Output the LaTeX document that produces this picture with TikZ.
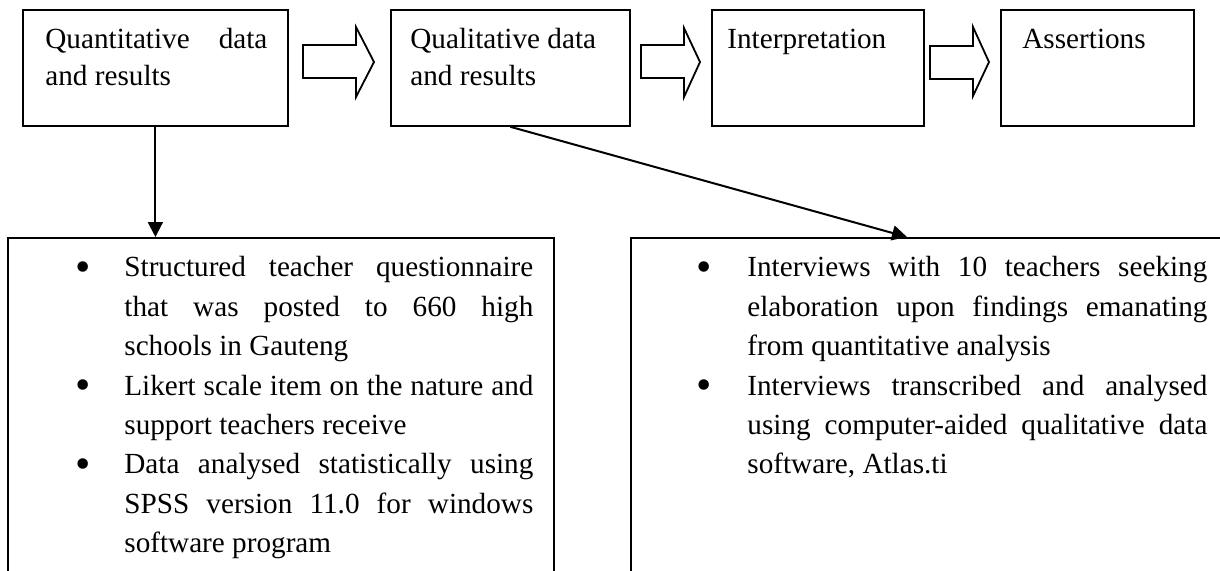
\documentclass[tikz,border=0pt]{standalone}
\usepackage{fontspec}
\setmainfont{Liberation Serif}
\usetikzlibrary{arrows.meta}
\hyphenpenalty=10000
\exhyphenpenalty=10000
\tikzset{
  box/.style={draw, rectangle, line width=0.9pt, inner sep=0pt, anchor=north west},
  txt/.style={inner sep=0pt, anchor=north west, font={\fontsize{14.6}{18.5}\selectfont}},
  btxt/.style={inner sep=0pt, anchor=north west, align=justify, font={\fontsize{14.6}{19.7}\selectfont}},
  conn/.style={line width=1pt, -{Triangle[length=7.5pt,width=7.5pt]}},
  blockarrow/.style={draw, line width=0.9pt, line join=miter, fill=white}
}
\newcommand{\bul}[1]{\leavevmode\llap{\raisebox{-2.2pt}{\scalebox{1.5}{\textbullet}}\hspace{#1}}\strut}
\begin{document}
\begin{tikzpicture}[x=0.5pt,y=-0.5pt]
\path[use as bounding box, clip] (0,0) rectangle (1220,570);
% top boxes
\node[box, minimum width=132.5pt, minimum height=58pt] (q1) at (22,9) {};
\node[box, minimum width=119.5pt, minimum height=58pt] (q2) at (390,9) {};
\node[box, minimum width=106pt, minimum height=58pt] (q3) at (711,9) {};
\node[box, minimum width=96.5pt, minimum height=58pt] (q4) at (1000,9) {};
% bottom boxes
\node[box, minimum width=273pt, minimum height=181.5pt] (b1) at (7,237) {};
\node[box, minimum width=300pt, minimum height=181.5pt] (b2) at (630,237) {};
% top texts
\node[txt, text width=111pt, align=justify] (t1) at (45,22.1) {\strut Quantitative data\linebreak and results};
\node[txt, align=left] (t2) at (410,22.1) {\strut Qualitative data\\and results};
\node[txt] (t3) at (727,22.1) {\strut Interpretation};
\node[txt] (t4) at (1022,22.1) {\strut Assertions};
% bottom texts
\node[btxt, text width=204.5pt] (l1) at (124,248.9) {\bul{17pt}Structured teacher questionnaire\linebreak that was posted to 660 high\linebreak schools in Gauteng\par
\bul{17pt}Likert scale item on the nature and\linebreak support teachers receive\par
\bul{17pt}Data analysed statistically using\linebreak SPSS version 11.0 for windows\linebreak software program};
\node[btxt, text width=230pt] (l2) at (747,248.9) {\bul{18pt}Interviews with 10 teachers seeking\linebreak elaboration upon findings emanating\linebreak from quantitative analysis\par
\bul{18pt}Interviews transcribed and analysed\linebreak using computer-aided qualitative data\linebreak software, Atlas.ti};
% block arrows
\draw[blockarrow] (303,45) -- (356,45) -- (356,27) -- (374,62) -- (356,97) -- (356,78) -- (303,78) -- cycle;
\draw[blockarrow] (641,45) -- (684,45) -- (684,28) -- (700,62) -- (684,97) -- (684,78) -- (641,78) -- cycle;
\draw[blockarrow] (930,46) -- (973,46) -- (973,27) -- (989,62) -- (973,96) -- (973,79) -- (930,79) -- cycle;
% connectors
\coordinate (e2) at (907,237);
\draw[conn] (q1.south) -- (q1.south |- b1.north);
\draw[conn] (q2.south) -- (e2);
\end{tikzpicture}
\end{document}
